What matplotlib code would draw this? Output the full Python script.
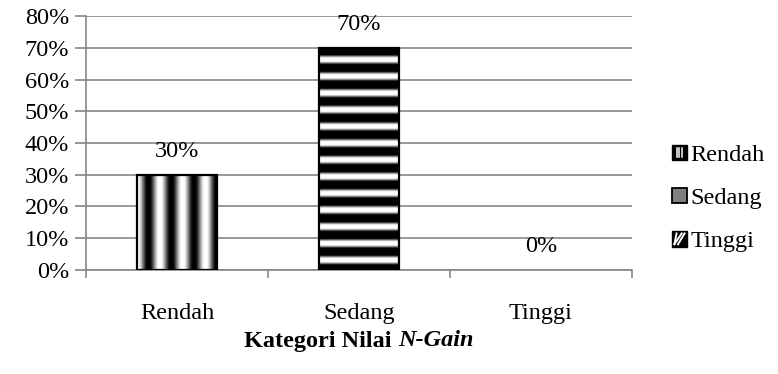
import numpy as np
import matplotlib
matplotlib.use("Agg")
import matplotlib.pyplot as plt
from matplotlib.patches import Rectangle
from matplotlib.lines import Line2D
from matplotlib.legend_handler import HandlerBase
from matplotlib.ticker import FixedLocator, PercentFormatter

plt.rcParams['font.family'] = ['Liberation Serif', 'DejaVu Serif']

categories = ["Rendah", "Sedang", "Tinggi"]
values = [30, 70, 0]
y_ticks = [0, 10, 20, 30, 40, 50, 60, 70, 80]
x_title_plain = "Kategori Nilai "
x_title_italic = "N-Gain"

FS = 17.5
GRID = '#868686'

fig = plt.figure(figsize=(7.78, 3.74), dpi=100)
ax = fig.add_axes([0.1105, 0.2781, 0.7018, 0.6791])

x = np.arange(len(categories))
bars = ax.bar(x, values, width=0.435, facecolor='none', edgecolor='black',
              linewidth=1.6, zorder=3)
for b in bars:
    if b.get_height() <= 0:
        b.set_edgecolor('none')

ax.set_xlim(-0.5, 2.5)
ax.set_ylim(0, 80)


def vertical_stripes(n=400, periods=3.5):
    t = np.linspace(0, 1, n)
    v = np.clip(0.5 + 0.55 * np.cos(2 * np.pi * periods * t), 0, 1)
    return np.tile(v, (4, 1))


def horizontal_stripes(y0, y1, first_white=66.1, period=5.25, n=800):
    y = np.linspace(y1, y0, n)
    v = np.clip(np.cos(2 * np.pi * (y - first_white) / period) + 0.2, 0, 1)
    return np.tile(v[:, None], (1, 4))


fills = {0: 'v', 1: 'h'}
for i, b in enumerate(bars):
    h = b.get_height()
    if h <= 0 or i not in fills:
        continue
    x0, w = b.get_x(), b.get_width()
    if fills[i] == 'v':
        img = vertical_stripes()
    else:
        img = horizontal_stripes(0, h)
    im = ax.imshow(img, cmap='gray', vmin=0, vmax=1, aspect='auto',
                   extent=[x0, x0 + w, 0, h], interpolation='bilinear',
                   zorder=2)
    im.set_clip_path(b)

ax.set_xlim(-0.5, 2.5)
ax.set_ylim(0, 80)

# gridlines and axes
ax.yaxis.set_major_locator(FixedLocator(y_ticks))
ax.yaxis.set_major_formatter(PercentFormatter(decimals=0))
ax.grid(axis='y', color=GRID, linewidth=1.2, zorder=0)
ax.set_axisbelow(True)
for s in ['top', 'right']:
    ax.spines[s].set_visible(False)
for s in ['left', 'bottom']:
    ax.spines[s].set_color(GRID)
    ax.spines[s].set_linewidth(1.2)

ax.set_xticks(x)
ax.set_xticklabels(categories)
ax.set_xticks(np.arange(-0.5, len(categories), 1.0), minor=True)
ax.tick_params(axis='x', which='major', length=0, pad=24, labelsize=FS)
ax.tick_params(axis='x', which='minor', length=6, width=1.2, color=GRID)
ax.tick_params(axis='y', which='major', length=8, width=1.2, color=GRID,
               labelsize=FS, pad=4)

for xi, v in zip(x, values):
    ax.annotate(f"{v}%", (xi, v), xytext=(0, 9), textcoords='offset points',
                ha='center', va='bottom', fontsize=FS, zorder=4)


# legend swatches
class Swatch:
    def __init__(self, kind):
        self.kind = kind


class SwatchHandler(HandlerBase):
    def create_artists(self, legend, orig, xd, yd, width, height, fontsize, trans):
        x0, y0 = -xd, -yd
        arts = []
        if orig.kind == 'gray':
            arts.append(Rectangle((x0, y0), width, height, facecolor='#7f7f7f',
                                  edgecolor='black', linewidth=1.3, transform=trans))
            return arts
        arts.append(Rectangle((x0, y0), width, height, facecolor='black',
                              edgecolor='black', linewidth=1.0, transform=trans))
        if orig.kind == 'vert':
            for f in (0.3, 0.5, 0.7):
                arts.append(Line2D([x0 + f * width] * 2,
                                   [y0 + 0.18 * height, y0 + 0.82 * height],
                                   color='white', linewidth=1.1, transform=trans))
        else:
            for f in (-0.3, 0.05, 0.4):
                xs = np.array([x0 + f * width, x0 + (f + 0.6) * width])
                ys = np.array([y0 + 0.15 * height, y0 + 0.85 * height])
                xs = np.clip(xs, x0 + 0.15 * width, x0 + 0.85 * width)
                arts.append(Line2D(xs, ys, color='white', linewidth=1.4,
                                   transform=trans))
        return arts


handles = [Swatch('vert'), Swatch('gray'), Swatch('diag')]
leg = fig.legend(handles, categories,
                 handler_map={Swatch: SwatchHandler()},
                 loc='center left', bbox_to_anchor=(0.864, 0.469),
                 frameon=False, fontsize=FS, handlelength=0.6,
                 handleheight=0.6, handletextpad=0.15, labelspacing=0.9,
                 borderaxespad=0, borderpad=0)

# axis title: bold, with bold-italic N-Gain
fig.canvas.draw()
r = fig.canvas.get_renderer()
t1 = fig.text(0, 0, x_title_plain, fontsize=FS, fontweight='bold',
              ha='left', va='center')
t2 = fig.text(0, 0, x_title_italic, fontsize=FS, fontweight='bold',
              fontstyle='italic', ha='left', va='center')
w1 = t1.get_window_extent(r).width
w2 = t2.get_window_extent(r).width
cx = (ax.get_position().x0 + ax.get_position().x1) / 2 * fig.bbox.width
start = cx - (w1 + w2) / 2
yc = 1 - 341 / 374
t1.set_position((start / fig.bbox.width, yc))
t2.set_position(((start + w1) / fig.bbox.width, yc))

fig.savefig("out.png", dpi=100)
